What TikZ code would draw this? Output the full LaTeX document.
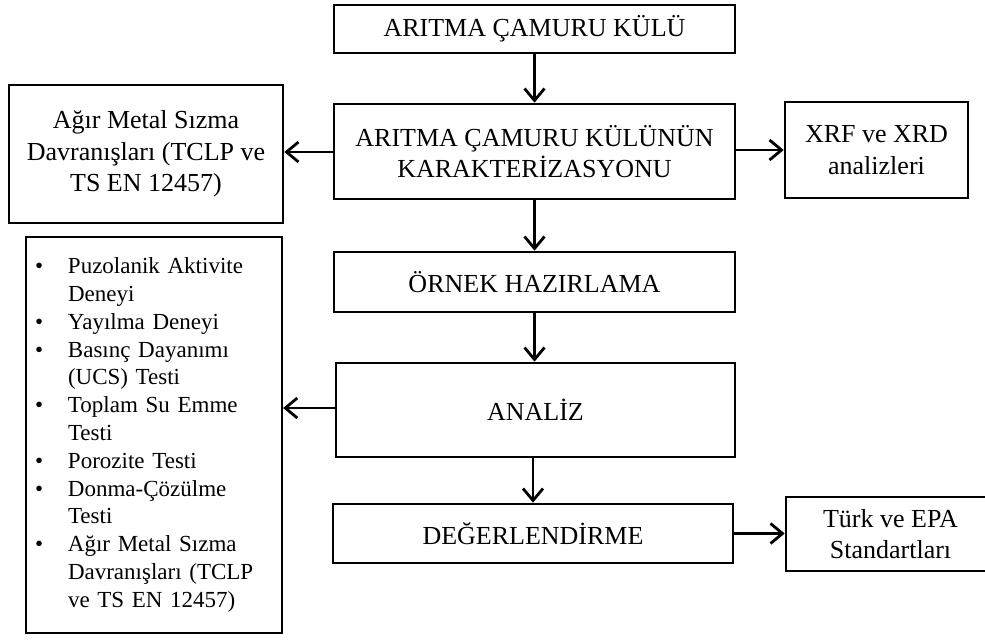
\documentclass[tikz,border=0pt]{standalone}
\usepackage{fontspec}
\setmainfont{Liberation Serif}
\usetikzlibrary{arrows.meta}
\begin{document}
\begin{tikzpicture}[x=1pt,y=-1pt,
  box/.style={draw, line width=2.6pt, inner sep=0pt, align=center,
    font=\fontsize{26}{31.7}\selectfont},
  arr/.style={line width=2.8pt, -{Straight Barb[length=12pt,width=20pt]}}]
\useasboundingbox (0,0) rectangle (985,642);
\node[box, minimum width=401pt, minimum height=48pt] (n1) at (534.5,29) {ARITMA ÇAMURU KÜLÜ};
\node[box, minimum width=401pt, minimum height=95pt] (n2) at (534.5,151.5) {ARITMA ÇAMURU KÜLÜNÜN\\KARAKTERİZASYONU};
\node[box, minimum width=274pt, minimum height=138pt] (ag) at (146,154) {Ağır Metal Sızma\\Davranışları (TCLP ve\\TS EN 12457)};
\node[box, minimum width=183pt, minimum height=96pt] (xrf) at (876.5,150) {XRF ve XRD\\analizleri};
\node[box, minimum width=401pt, minimum height=60pt] (orn) at (534.5,282) {ÖRNEK HAZIRLAMA};
\node[box, minimum width=399pt, minimum height=94pt] (an) at (535.5,410) {ANALİZ};
\node[box, minimum width=400pt, minimum height=59pt] (deg) at (533,533.5) {DEĞERLENDİRME};
\node[box, minimum width=209pt, minimum height=74pt] (tu) at (890.5,534) {Türk ve EPA\\Standartları};
\node[box, line width=2.2pt, minimum width=256pt, minimum height=396pt, text width=238pt,
  inner xsep=9pt, align=left, font=\fontsize{23}{27.8}\selectfont] (li) at (154,435)
  {\begin{tabular}{@{}p{33pt}@{}l@{}}
  \textbullet & Puzolanik Aktivite\\
   & Deneyi\\
  \textbullet & Yayılma Deneyi\\
  \textbullet & Basınç Dayanımı\\
   & (UCS) Testi\\
  \textbullet & Toplam Su Emme\\
   & Testi\\
  \textbullet & Porozite Testi\\
  \textbullet & Donma-Çözülme\\
   & Testi\\
  \textbullet & Ağır Metal Sızma\\
   & Davranışları (TCLP\\
   & ve TS EN 12457)
  \end{tabular}};
\draw[arr] (n1) -- (n2);
\draw[arr] (n2.west |- 0,152) -- (ag.east |- 0,152);
\draw[arr] (n2.east |- 0,150) -- (xrf.west |- 0,150);
\draw[arr] (n2) -- (orn);
\draw[arr] (orn) -- (orn |- an.north);
\draw[arr] (an.west |- 0,408) -- (li.east |- 0,408);
\draw[arr] (an.south -| deg) -- (deg);
\draw[arr] (deg.east) -- (tu.west |- deg.east);
\end{tikzpicture}
\end{document}
